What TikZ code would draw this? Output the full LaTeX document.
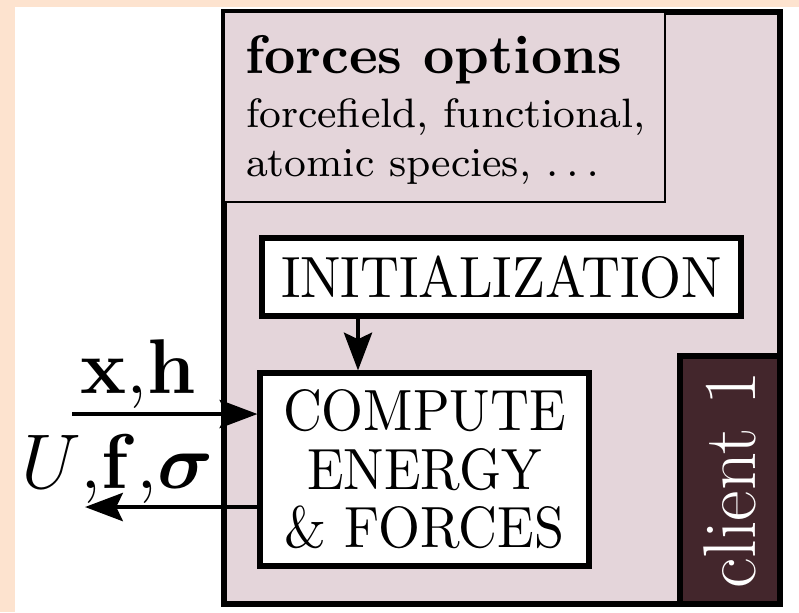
\documentclass[tikz,border=0pt]{standalone}
\usepackage{amsmath}
\usetikzlibrary{arrows.meta}
\definecolor{peach}{HTML}{FDE3CF}
\definecolor{pinkfill}{HTML}{E4D5DA}
\definecolor{darkfill}{HTML}{43262C}
\begin{document}
\begin{tikzpicture}[x=0.1856pt,y=-0.1856pt,
  boxline/.style={draw=black,line width=0.95pt},
  thinline/.style={draw=black,line width=0.5pt},
  whitebox/.style={boxline,fill=white,inner sep=0pt},
  boxtext/.style={yscale=1.08,transform shape,inner sep=0pt,align=center,
    font=\fontsize{10}{10.05}\selectfont},
  bigtext/.style={scale=#1,transform shape,inner sep=0pt,align=center,
    font=\fontsize{17}{17.5}\selectfont},
  arr/.style={line width=0.85pt,-{Stealth[length=7pt,width=5.2pt,inset=1.2pt]}},
  lbl/.style={inner sep=0pt}]
\useasboundingbox (0,0) rectangle (799,612);
\fill[peach] (0,0) rectangle (799,612);
\fill[white] (15,7) rectangle (799,612);
% outer frame
\node[boxline,fill=pinkfill,minimum width=556*0.1856pt,minimum height=592*0.1856pt,inner sep=0pt] (frame) at (502,308) {};
% forces options
\node[thinline,fill=pinkfill,minimum width=441*0.1856pt,minimum height=190*0.1856pt,inner sep=0pt] (opts) at (444.5,107) {};
\node[anchor=base west,inner sep=0pt,font=\fontsize{10.1}{12}\selectfont\bfseries] (optt) at (244,73) {forces options};
\node[anchor=base west,inner sep=0pt,font=\fontsize{7.62}{9.1}\selectfont] (opt1) at (245,127) {forcefield, functional,};
\node[anchor=base west,inner sep=0pt,font=\fontsize{7.62}{9.1}\selectfont] (opt2) at (245,176) {atomic species, $\ldots$};
% initialization
\node[whitebox,minimum width=479*0.1856pt,minimum height=78*0.1856pt] (init) at (501.5,277) {};
\node[boxtext] (initt) at (init.center) {INITIALIZATION};
% compute
\node[whitebox,minimum width=329*0.1856pt,minimum height=193*0.1856pt] (comp) at (424.5,469.5) {};
\node[boxtext] (compt) at (comp.center) {COMPUTE\\ENERGY\\\&\ FORCES};
% client
\node[boxline,fill=darkfill,minimum width=100*0.1856pt,minimum height=248*0.1856pt,inner sep=0pt] (client) at (730,480) {};
\node[bigtext=0.815,rotate=90,text=white] (clientt) at (client.center) {client 1};
% arrows
\coordinate (ax) at (358,0);
\draw[arr] (ax |- init.south) -- (ax |- comp.north);
\coordinate (in) at (72,414);
\draw[arr] (in) -- (in -| comp.west);
\coordinate (out) at (85,507);
\draw[arr] (out -| comp.west) -- (out);
% labels
\node[lbl,anchor=base,font=\fontsize{13.7}{15}\selectfont] (xh) at (138.5,393) {$\mathbf{x}{,}\mathbf{h}$};
\node[lbl,anchor=base west,font=\fontsize{13.7}{15}\selectfont] (ufs) at (20,488) {$U{,}\mathbf{f}{,}\boldsymbol{\sigma}$};
\end{tikzpicture}
\end{document}
